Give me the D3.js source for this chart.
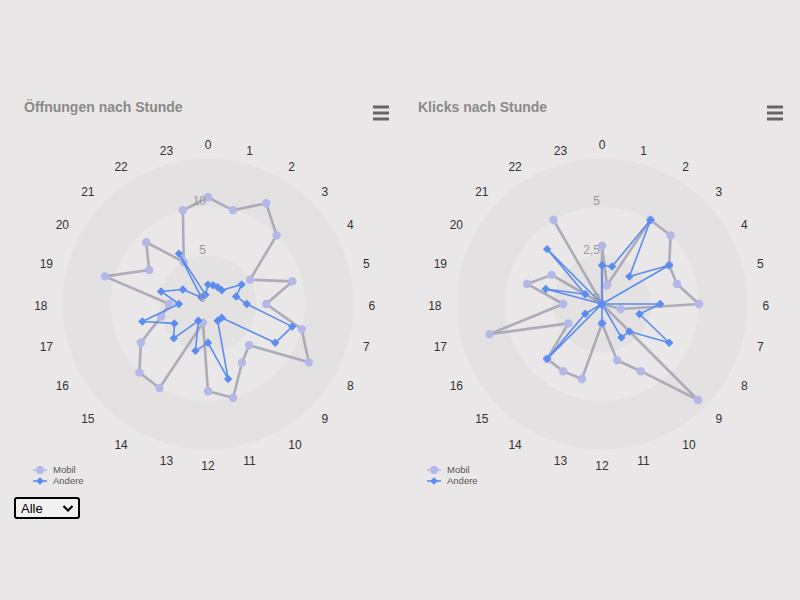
<!DOCTYPE html>
<html>
<head>
<meta charset="utf-8">
<script src="https://cdn.jsdelivr.net/npm/d3@7"></script>
<style>
  html, body { margin: 0; padding: 0; background: #e9e7e7; width: 800px; height: 600px; overflow: hidden; font-family: "Liberation Sans", Arial, sans-serif; }
  #sel { position: absolute; left: 14px; top: 497px; width: 66px; height: 22px; box-sizing: border-box; border: 2px solid #000; border-radius: 3px; background: #f2f1f1; font: 13px "Liberation Sans", Arial, sans-serif; color: #000; }
  #sel span { position: absolute; left: 5px; top: 2px; }
  #sel svg { position: absolute; right: 4px; top: 5px; }
</style>
</head>
<body>
<svg id="chart" width="800" height="600"></svg>
<div id="sel"><span>Alle</span><svg width="12" height="9"><path d="M1.5,2 L6,6.5 L10.5,2" fill="none" stroke="#000" stroke-width="2.2"/></svg></div>
<script>
// ---- data ----
const hours = d3.range(0, 24);
const hourLabels = hours.map(String);
const seriesNames = ["Mobil", "Andere"];
const titles = ["Öffnungen nach Stunde", "Klicks nach Stunde"];

const opensMobil  = [11, 10, 12, 10, 5, 9, 6, 10, 12, 6, 7, 10, 9, 2, 10, 10, 8, 5, 4, 11, 7, 9, 5, 10];
const opensAndere = [2, 2, 2, 2, 4, 3, 4, 9, 8, 2, 2, 8, 4, 5, 2, 5, 4, 7, 3, 5, 3, 1, 6, 1];
const clicksMobil  = [3, 1, 5, 5, 4, 4, 5, 1, 0, 7, 4, 3, 1, 4, 4, 4, 2, 6, 2, 4, 3, 0, 5, 0];
const clicksAndere = [2, 2, 5, 2, 4, 0, 3, 2, 4, 2, 2, 0, 1, 0, 0, 4, 1, 0, 0, 3, 1, 4, 0, 0];

const opensTicks = [0, 5, 10];
const clicksTicks = [0, 2.5, 5];
const opensMax = 15, clicksMax = 7.5;
const opensBands = [[0, 5], [10, 15]];
const clicksBands = [[0, 2.5], [5, 7.5]];

// ---- drawing ----
const de = d3.formatLocale({decimal: ",", thousands: ".", grouping: [3], currency: ["", " €"]});
const fmt = de.format("~g");
const svg = d3.select("#chart");

const colMobilMarker = "#b3b8e9";
const colMobilLine = "rgba(150,150,166,0.72)";
const colAndere = "#5b8cf0";

function drawChart(ox, title, mobil, andere, ticks, max, bands) {
  const cx = ox + 208, cy = 304, R = 145.5;
  const g = svg.append("g");
  const r = d3.scaleLinear().domain([0, max]).range([0, R]);
  const a = d3.scaleLinear().domain([0, 24]).range([0, 2 * Math.PI]);

  // title
  g.append("text").attr("x", ox + 24).attr("y", 112)
    .attr("font-size", 14).attr("font-weight", "bold").attr("fill", "#8a8a8a")
    .text(title);

  // menu icon
  const mi = g.append("g");
  [107, 113, 119].forEach(y => mi.append("rect").attr("x", ox + 373).attr("y", y - 1.5).attr("width", 16).attr("height", 3).attr("fill", "#666"));

  const p = g.append("g").attr("transform", `translate(${cx},${cy})`);
  // pane bands
  const arc = d3.arc().startAngle(0).endAngle(2 * Math.PI);
  bands.forEach(b => {
    p.append("path").attr("d", arc({innerRadius: r(b[0]), outerRadius: r(b[1])})).attr("fill", "#e3e1e1");
  });

  // hour labels
  hours.forEach((h, i) => {
    const ang = a(h);
    const deg = h * 15;
    const d = R + 15;
    const anchor = (deg > 20 && deg < 160) ? "start" : (deg > 200 && deg < 340) ? "end" : "middle";
    p.append("text").attr("x", d * Math.sin(ang)).attr("y", -d * Math.cos(ang) + 1.5)
      .attr("text-anchor", anchor).attr("dy", "0.35em")
      .attr("font-size", 12).attr("fill", "#333").text(hourLabels[i]);
  });

  const line = d3.lineRadial().angle((d, i) => a(i)).radius(d => r(d)).curve(d3.curveLinearClosed);

  // Mobil
  p.append("path").attr("d", line(mobil)).attr("fill", "none")
    .attr("stroke", colMobilLine).attr("stroke-width", 2.6).attr("stroke-linejoin", "round");
  p.selectAll(".mm").data(mobil).enter().append("circle")
    .attr("cx", (d, i) => r(d) * Math.sin(a(i))).attr("cy", (d, i) => -r(d) * Math.cos(a(i)))
    .attr("r", 4.2).attr("fill", colMobilMarker);

  // Andere
  p.append("path").attr("d", line(andere)).attr("fill", "none")
    .attr("stroke", colAndere).attr("stroke-width", 1.6).attr("stroke-linejoin", "round");
  p.selectAll(".ma").data(andere).enter().append("path")
    .attr("transform", (d, i) => `translate(${r(d) * Math.sin(a(i))},${-r(d) * Math.cos(a(i))})`)
    .attr("d", "M0,-4.2L4.2,0L0,4.2L-4.2,0Z").attr("fill", colAndere);

  // y-axis labels
  ticks.forEach(t => {
    p.append("text").attr("x", -2).attr("y", -r(t) - 2)
      .attr("text-anchor", "end").attr("font-size", 12).attr("fill", "#999").text(fmt(t));
  });

  // legend
  const lg = g.append("g").attr("transform", `translate(${ox + 33},0)`);
  seriesNames.forEach((n, i) => {
    const y = 470 + i * 11;
    const c = i === 0 ? colMobilMarker : colAndere;
    lg.append("line").attr("x1", 0).attr("x2", 14).attr("y1", y).attr("y2", y).attr("stroke", c).attr("stroke-width", 1.6);
    if (i === 0) lg.append("circle").attr("cx", 7).attr("cy", y).attr("r", 4).attr("fill", c);
    else lg.append("path").attr("transform", `translate(7,${y})`).attr("d", "M0,-3.8L3.8,0L0,3.8L-3.8,0Z").attr("fill", c);
    lg.append("text").attr("x", 20).attr("y", y).attr("dy", "0.35em").attr("font-size", 9.5).attr("fill", "#555").text(n);
  });
}

drawChart(0, titles[0], opensMobil, opensAndere, opensTicks, opensMax, opensBands);
drawChart(394, titles[1], clicksMobil, clicksAndere, clicksTicks, clicksMax, clicksBands);
</script>
</body>
</html>
